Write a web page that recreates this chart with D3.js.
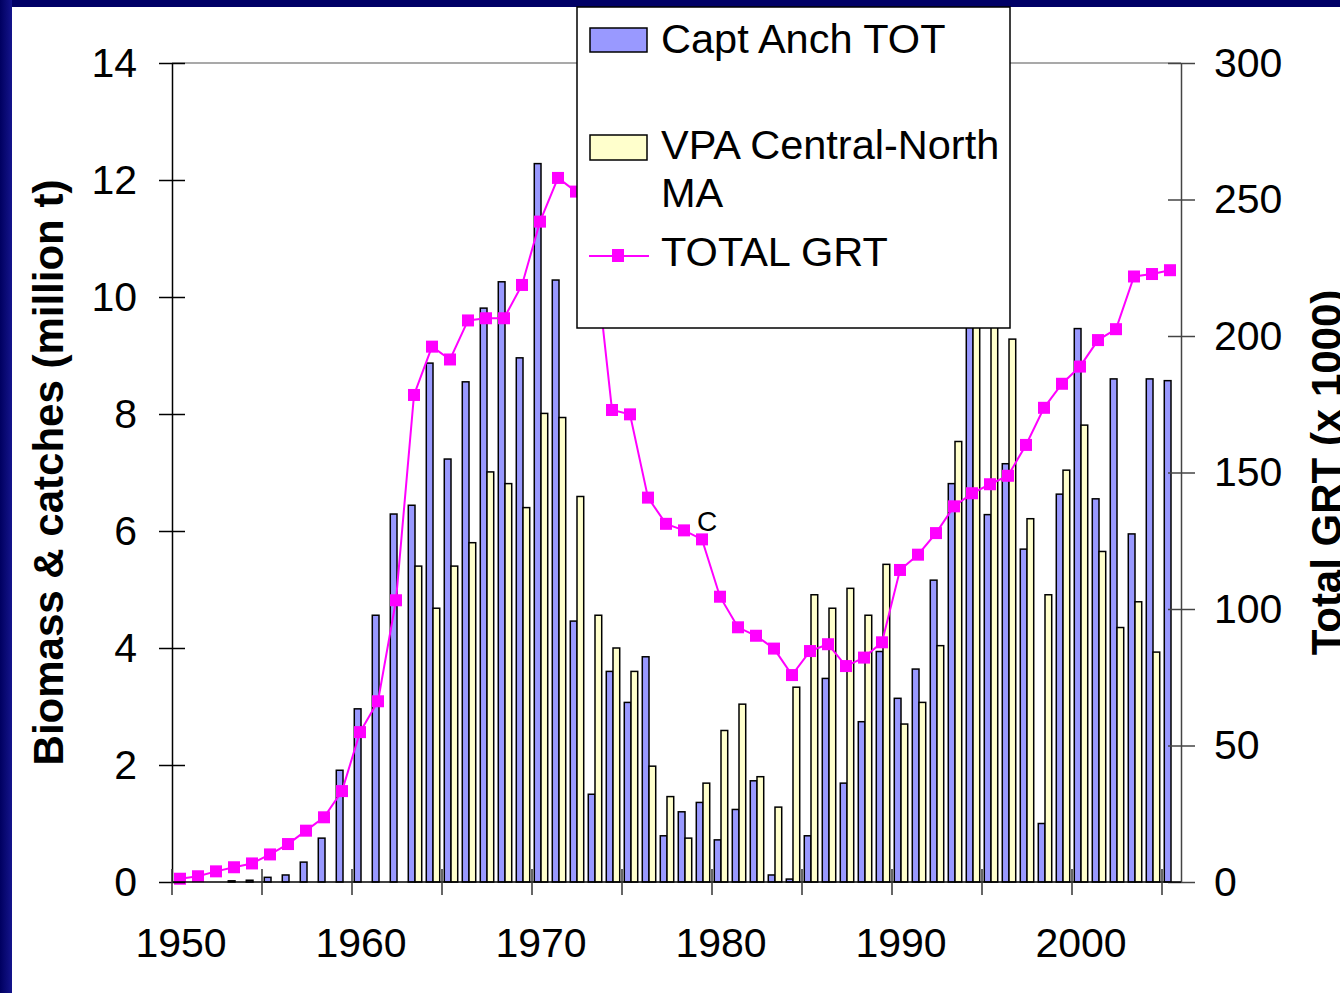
<!DOCTYPE html>
<html>
<head>
<meta charset="utf-8">
<script src="https://cdn.jsdelivr.net/npm/d3@7"></script>
<style>
  html, body { margin: 0; padding: 0; background: #000066; }
  svg { display: block; font-family: "Liberation Sans", Arial, sans-serif; }
</style>
</head>
<body>
<div id="chart"></div>
<script>
const width = 1340;
const height = 993;

// years on the category axis
const years = d3.range(1950, 2006);

// Capt Anch TOT (million t)
const anchTot = [0, 0, 0, 0.02, 0.03, 0.08, 0.12, 0.34, 0.75, 1.91,
  2.96, 4.56, 6.29, 6.44, 8.87, 7.23, 8.55, 9.81, 10.26, 8.96,
  12.28, 10.29, 4.46, 1.50, 3.60, 3.07, 3.85, 0.79, 1.20, 1.36,
  0.72, 1.24, 1.73, 0.12, 0.05, 0.79, 3.48, 1.69, 2.74, 3.94,
  3.14, 3.64, 5.16, 6.81, 11.5, 6.28, 7.15, 5.69, 1.00, 6.63,
  9.46, 6.55, 8.60, 5.95, 8.60, 8.57];

// VPA Central-North MA (million t)
const vpaCN = [0, 0, 0, 0, 0, 0, 0, 0, 0, 0,
  0, 0, 0, 5.40, 4.68, 5.40, 5.80, 7.01, 6.81, 6.40,
  8.01, 7.94, 6.59, 4.56, 4.00, 3.60, 1.98, 1.46, 0.75, 1.69,
  2.59, 3.04, 1.80, 1.28, 3.33, 4.91, 4.68, 5.02, 4.56, 5.43,
  2.70, 3.07, 4.04, 7.53, 10.5, 10.8, 9.28, 6.21, 4.91, 7.04,
  7.81, 5.65, 4.35, 4.79, 3.93, 0];

// TOTAL GRT (x 1000)
const totalGrt = [1.2, 2.1, 3.9, 5.4, 6.8, 10.1, 13.9, 18.8, 23.7, 33.3,
  54.9, 66.2, 103.2, 178.4, 196.1, 191.4, 205.7, 206.5, 206.5, 218.7,
  241.9, 257.9, 252.9, 233.0, 172.9, 171.3, 140.8, 131.2, 128.8, 125.5,
  104.5, 93.3, 90.2, 85.5, 75.8, 84.6, 87.1, 79.1, 82.2, 87.8,
  114.3, 119.9, 127.8, 137.6, 142.4, 145.7, 148.8, 160.1, 173.7, 182.5,
  188.8, 198.5, 202.5, 221.8, 222.7, 224.1];

const leftTicks = [0, 2, 4, 6, 8, 10, 12, 14];
const rightTicks = [0, 50, 100, 150, 200, 250, 300];
const yearLabels = [1950, 1960, 1970, 1980, 1990, 2000];

const plot = { left: 172, right: 1180, top: 63, bottom: 882 };

const svg = d3.select('#chart')
  .append('svg')
  .attr('width', width)
  .attr('height', height);

// navy frame with a soft left edge
const defs = svg.append('defs');
const grad = defs.append('linearGradient').attr('id', 'frameGrad')
  .attr('x1', 0).attr('x2', 1).attr('y1', 0).attr('y2', 0);
grad.append('stop').attr('offset', '0%').attr('stop-color', '#000060');
grad.append('stop').attr('offset', '100%').attr('stop-color', '#14148c');

svg.append('rect').attr('width', width).attr('height', height).attr('fill', '#000066');
svg.append('rect').attr('x', 0).attr('y', 0).attr('width', 12).attr('height', height)
  .attr('fill', 'url(#frameGrad)');
svg.append('rect').attr('x', 12).attr('y', 7).attr('width', width - 12).attr('height', height - 7)
  .attr('fill', '#fff');

const x = d3.scaleBand()
  .domain(years)
  .range([plot.left, plot.right])
  .paddingInner(0).paddingOuter(0);

const xSub = d3.scaleBand()
  .domain(['anch', 'vpa'])
  .range([0, x.bandwidth()])
  .paddingInner(0)
  .paddingOuter(0.34);

const yL = d3.scaleLinear().domain([0, 14]).range([plot.bottom, plot.top]);
const yR = d3.scaleLinear().domain([0, 300]).range([plot.bottom, plot.top]);

// top border of plot area
svg.append('line')
  .attr('x1', plot.left).attr('x2', plot.right + 1)
  .attr('y1', plot.top).attr('y2', plot.top)
  .attr('stroke', '#8c8c8c').attr('stroke-width', 1.5);

const rows = years.map((yr, i) => ({ year: yr, anch: anchTot[i], vpa: vpaCN[i], grt: totalGrt[i] }));

// bars
const bars = svg.append('g').attr('class', 'bars');
bars.selectAll('rect.anch')
  .data(rows.filter(d => d.anch > 0))
  .join('rect')
  .attr('class', 'anch')
  .attr('x', d => x(d.year) + xSub('anch'))
  .attr('y', d => yL(d.anch))
  .attr('width', xSub.bandwidth())
  .attr('height', d => yL(0) - yL(d.anch))
  .attr('fill', '#9999ff')
  .attr('stroke', '#000')
  .attr('stroke-width', 1.5);

bars.selectAll('rect.vpa')
  .data(rows.filter(d => d.vpa > 0))
  .join('rect')
  .attr('class', 'vpa')
  .attr('x', d => x(d.year) + xSub('vpa'))
  .attr('y', d => yL(d.vpa))
  .attr('width', xSub.bandwidth())
  .attr('height', d => yL(0) - yL(d.vpa))
  .attr('fill', '#ffffcc')
  .attr('stroke', '#000')
  .attr('stroke-width', 1.5);

// TOTAL GRT line on right axis
const line = d3.line()
  .x(d => x(d.year) + x.bandwidth() / 2 - 1)
  .y(d => yR(d.grt));

svg.append('path')
  .datum(rows)
  .attr('d', line)
  .attr('fill', 'none')
  .attr('stroke', '#ff00ff')
  .attr('stroke-width', 2);

svg.append('g').selectAll('rect')
  .data(rows)
  .join('rect')
  .attr('x', d => x(d.year) + x.bandwidth() / 2 - 1 - 6)
  .attr('y', d => yR(d.grt) - 6)
  .attr('width', 12)
  .attr('height', 12)
  .attr('fill', '#ff00ff');

svg.append('text')
  .attr('x', 707).attr('y', 531)
  .attr('text-anchor', 'middle')
  .attr('font-size', 28)
  .text('C');

// left axis
const leftAxis = svg.append('g')
  .attr('transform', `translate(${plot.left},0)`)
  .call(d3.axisLeft(yL).tickValues(leftTicks).tickSize(13).tickPadding(22).tickSizeOuter(0));
leftAxis.select('.domain').attr('stroke', '#000').attr('stroke-width', 1.5);
leftAxis.selectAll('.tick line').attr('x1', 13).attr('stroke-width', 1.5);
leftAxis.selectAll('.tick text').attr('font-size', 41).attr('font-family', 'Liberation Sans, Arial, sans-serif');

// right axis
const rightAxis = svg.append('g')
  .attr('transform', `translate(${plot.right + 1},0)`)
  .call(d3.axisRight(yR).tickValues(rightTicks).tickSize(14).tickPadding(19).tickSizeOuter(0));
rightAxis.select('.domain').attr('stroke', '#444').attr('stroke-width', 1.5);
rightAxis.selectAll('.tick line').attr('x1', -13).attr('stroke', '#444').attr('stroke-width', 1.5);
rightAxis.selectAll('.tick text').attr('font-size', 41).attr('font-family', 'Liberation Sans, Arial, sans-serif');

// bottom axis: boundary ticks every 5 years, labels every 10 at category centres
const xAxisG = svg.append('g').attr('transform', `translate(0,${plot.bottom})`);
xAxisG.append('line')
  .attr('x1', plot.left).attr('x2', plot.right + 1)
  .attr('stroke', '#000').attr('stroke-width', 1.5);
xAxisG.selectAll('line.btick')
  .data(years.filter(yr => (yr - 1950) % 5 === 0))
  .join('line')
  .attr('class', 'btick')
  .attr('x1', d => x(d)).attr('x2', d => x(d))
  .attr('y1', -13).attr('y2', 13)
  .attr('stroke', '#333').attr('stroke-width', 1.5);

const xLabels = svg.append('g')
  .attr('transform', `translate(0,${plot.bottom})`)
  .call(d3.axisBottom(x).tickValues(yearLabels).tickSize(0).tickPadding(46));
xLabels.select('.domain').remove();
xLabels.selectAll('.tick text').attr('font-size', 41).attr('font-family', 'Liberation Sans, Arial, sans-serif');

// axis titles
svg.append('text')
  .attr('transform', `translate(63,${(plot.top + plot.bottom) / 2}) rotate(-90)`)
  .attr('text-anchor', 'middle')
  .attr('font-size', 42)
  .attr('font-weight', 'bold')
  .text('Biomass & catches (million t)');

svg.append('text')
  .attr('transform', `translate(1341,${(plot.top + plot.bottom) / 2}) rotate(-90)`)
  .attr('text-anchor', 'middle')
  .attr('font-size', 42)
  .attr('font-weight', 'bold')
  .text('Total GRT (x 1000)');

// legend
const legend = svg.append('g');
legend.append('rect')
  .attr('x', 577).attr('y', 7)
  .attr('width', 433).attr('height', 321)
  .attr('fill', '#fff').attr('stroke', '#000').attr('stroke-width', 1.5);
legend.append('rect')
  .attr('x', 590).attr('y', 28).attr('width', 57).attr('height', 24)
  .attr('fill', '#9999ff').attr('stroke', '#000').attr('stroke-width', 1.5);
legend.append('rect')
  .attr('x', 590).attr('y', 135).attr('width', 57).attr('height', 25)
  .attr('fill', '#ffffcc').attr('stroke', '#000').attr('stroke-width', 1.5);
legend.append('line')
  .attr('x1', 589).attr('x2', 649).attr('y1', 256).attr('y2', 256)
  .attr('stroke', '#ff00ff').attr('stroke-width', 2);
legend.append('rect')
  .attr('x', 612).attr('y', 249).attr('width', 12).attr('height', 13)
  .attr('fill', '#ff00ff');

const legendText = [
  { t: 'Capt Anch TOT', y: 53 },
  { t: 'VPA Central-North', y: 159 },
  { t: 'MA', y: 207 },
  { t: 'TOTAL GRT', y: 266 }
];
legend.selectAll('text.lt')
  .data(legendText)
  .join('text')
  .attr('class', 'lt')
  .attr('x', 661)
  .attr('y', d => d.y)
  .attr('font-size', 41.5)
  .text(d => d.t);
</script>
</body>
</html>
